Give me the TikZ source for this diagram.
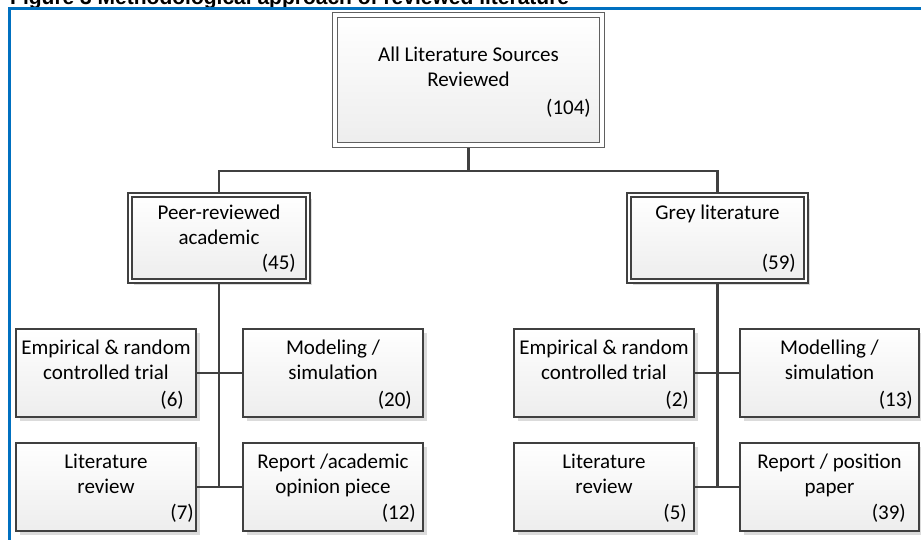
\documentclass[tikz,border=0pt]{standalone}
\usepackage{fontspec}
\setmainfont{Carlito}
\newfontfamily\titlefont{Liberation Sans}
\usetikzlibrary{shadows}
\definecolor{frameblue}{RGB}{0,112,192}
\definecolor{boxline}{RGB}{64,64,64}
\definecolor{thinline}{RGB}{96,96,96}
\begin{document}
\begin{tikzpicture}[x=1pt,y=-1pt,
  boxshade/.style={top color=white, bottom color=black!7},
  shad/.style={drop shadow={shadow xshift=3.5pt, shadow yshift=-3.5pt, fill=black!14, opacity=1}},
  leaf/.style={draw=boxline, line width=2pt, boxshade, shad, inner sep=0pt, outer sep=1pt,
    minimum width=180pt, minimum height=88pt},
  midbox/.style={draw=boxline, line width=2pt, double=white, double distance=2pt, boxshade, shad,
    inner sep=0pt, outer sep=3pt, minimum height=86pt},
  topbox/.style={draw=thinline, line width=1.2pt, double=white, double distance=4pt, boxshade, shad,
    inner sep=0pt, outer sep=3.2pt, minimum width=266.6pt, minimum height=129.6pt},
  lbl/.style={font=\fontsize{21}{25}\selectfont, align=center, inner sep=0pt, anchor=north},
  cnt/.style={font=\fontsize{21}{25}\selectfont, inner sep=0pt, anchor=base east},
  conn/.style={draw=boxline, line width=2.6pt}
]
\useasboundingbox (0,0) rectangle (921,539);
\clip (0,0) rectangle (921,539);

% title and frame
\node[anchor=base west, inner sep=0pt, font=\titlefont\bfseries\fontsize{21}{25}\selectfont] (title) at (10,4.5)
  {Figure 3 Methodological approach of reviewed literature};
\draw[frameblue, line width=2.5pt] (9.3,545) -- (9.3,8.3) -- (925,8.3);

% boxes
\node[topbox] (top) at (468.5,80) {};
\node[midbox, minimum width=178pt] (peer) at (219,238) {};
\node[midbox, minimum width=177pt] (grey) at (717.5,238) {};

\node[leaf] (emp) at (106,373) {};
\node[leaf] (mod) at (333,373) {};
\node[leaf] (lrev) at (106,487) {};
\node[leaf] (rep) at (333,487) {};

\node[leaf] (emp2) at (604,373) {};
\node[leaf, minimum width=179pt] (mod2) at (829.5,373) {};
\node[leaf] (lrev2) at (604,487) {};
\node[leaf, minimum width=179pt] (rep2) at (829.5,487) {};

% connectors
\coordinate (hub) at (468.5,171);
\draw[conn] (top.south) -- (hub);
\draw[conn] (peer.north) |- (hub) -| (grey.north);
\draw[conn] (peer.south) -- (peer.south |- lrev.east);
\draw[conn] (emp.east) -- (mod.west);
\draw[conn] (lrev.east) -- (rep.west);
\draw[conn] (grey.south) -- (grey.south |- lrev2.east);
\draw[conn] (emp2.east) -- (mod2.west);
\draw[conn] (lrev2.east) -- (rep2.west);

% labels
\node[lbl] (topl) at (468.5,43.5) {\strut All Literature Sources\\Reviewed};
\node[cnt] (topc) at (591,114) {(104)};
\node[lbl] (peerl) at (219,201.5) {\strut Peer-reviewed\\academic};
\node[cnt] (peerc) at (296,269) {(45)};
\node[lbl] (greyl) at (717.5,201.5) {\strut Grey literature};
\node[cnt] (greyc) at (796,269) {(59)};

\node[lbl] (empl) at (106,336.5) {\strut Empirical \& random\\controlled trial};
\node[cnt] (empc) at (184,406) {(6)};
\node[lbl] (modl) at (333,336.5) {\strut Modeling /\\simulation};
\node[cnt] (modc) at (412,406) {(20)};
\node[lbl] (lrevl) at (106,450.5) {\strut Literature\\review};
\node[cnt] (lrevc) at (194,519) {(7)};
\node[lbl] (repl) at (333,450.5) {\strut Report /academic\\opinion piece};
\node[cnt] (repc) at (416,519) {(12)};

\node[lbl] (emp2l) at (604,336.5) {\strut Empirical \& random\\controlled trial};
\node[cnt] (emp2c) at (689,406) {(2)};
\node[lbl] (mod2l) at (829.5,336.5) {\strut Modelling /\\simulation};
\node[cnt] (mod2c) at (913,406) {(13)};
\node[lbl] (lrev2l) at (604,450.5) {\strut Literature\\review};
\node[cnt] (lrev2c) at (687,519) {(5)};
\node[lbl] (rep2l) at (829.5,450.5) {\strut Report / position\\paper};
\node[cnt] (rep2c) at (906,519) {(39)};
\end{tikzpicture}
\end{document}
